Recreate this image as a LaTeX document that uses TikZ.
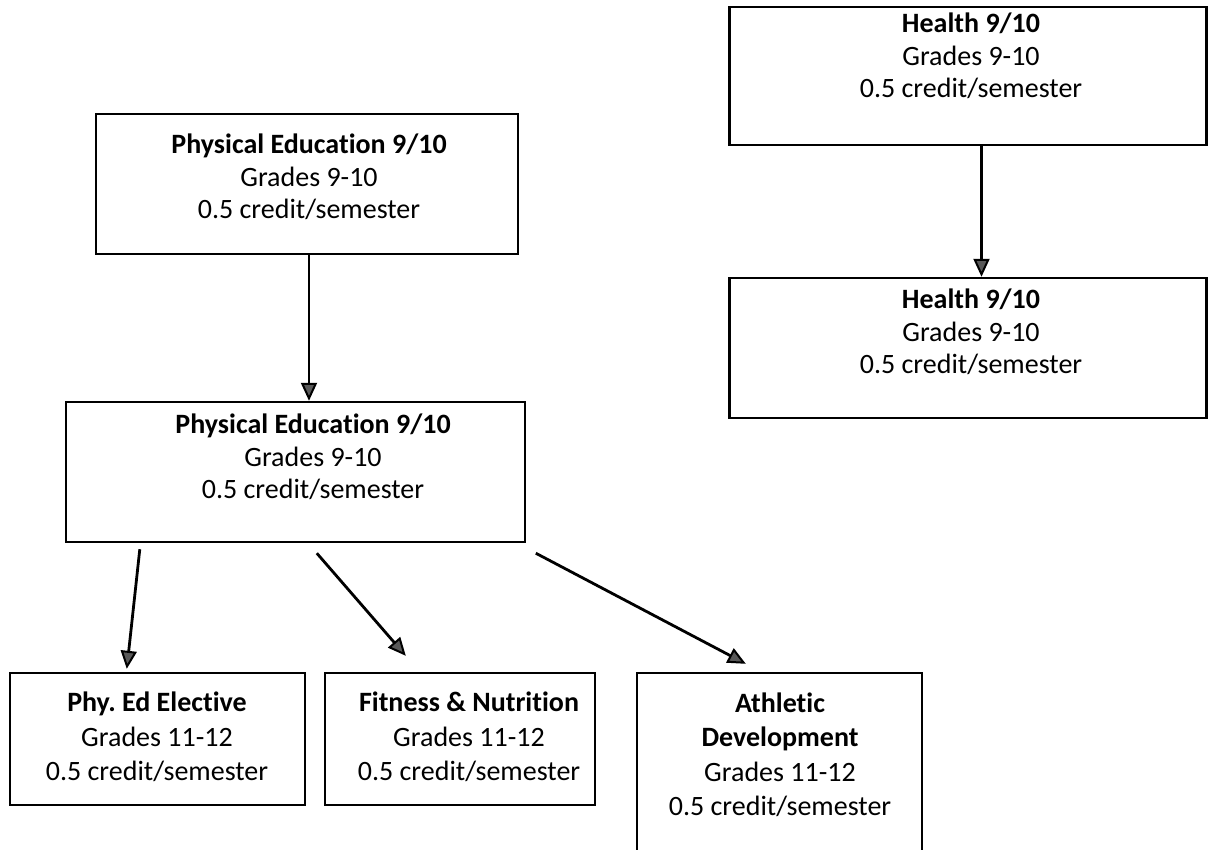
\documentclass[tikz,border=0pt]{standalone}
\usepackage{fontspec}
\setmainfont[Ligatures=NoCommon]{Carlito}
\usetikzlibrary{arrows.meta,calc}
\begin{document}
\frenchspacing
\begin{tikzpicture}[x=1pt,y=-1pt,
  box/.style={draw=black,line width=2.4pt,rectangle,inner sep=0pt},
  txt/.style={align=center,inner sep=0pt,font=\fontsize{28}{32.5}\selectfont},
  txtb/.style={align=center,inner sep=0pt,font=\fontsize{28}{34.5}\selectfont},
  arr/.style={draw=black,line width=2.8pt,-{Triangle[length=18pt,width=16pt,fill=black!65,line width=2pt]}}]
\useasboundingbox (0,0) rectangle (1209,850);
\clip (0,0) rectangle (1209,850);
% boxes
\node[box,minimum width=477pt,minimum height=138pt] (h1) at (968,76) {};
\node[box,minimum width=477pt,minimum height=140pt] (h2) at (968,348) {};
\node[box,minimum width=422pt,minimum height=140pt] (pe1) at (307,184) {};
\node[box,minimum width=459pt,minimum height=140pt] (pe2) at (295.5,472) {};
\node[box,minimum width=295pt,minimum height=132pt] (el) at (157.5,739) {};
\node[box,minimum width=270pt,minimum height=132pt] (fn) at (460,739) {};
\node[box,minimum width=285pt,minimum height=190pt] (ad) at (779.5,768) {};
% texts
\node[txt] (h1t) at (971,56) {\textbf{Health 9/10}\\Grades 9-10\\0.5 credit/semester};
\node[txt] (h2t) at (971,332) {\textbf{Health 9/10}\\Grades 9-10\\0.5 credit/semester};
\node[txt] (pe1t) at (309,177) {\textbf{Physical Education 9/10}\\Grades 9-10\\0.5 credit/semester};
\node[txt] (pe2t) at (313,457) {\textbf{Physical Education 9/10}\\Grades 9-10\\0.5 credit/semester};
\node[txtb] (elt) at (157,737) {\textbf{Phy. Ed Elective}\\Grades 11-12\\0.5 credit/semester};
\node[txtb] (fnt) at (469,737) {\textbf{Fitness \& Nutrition}\\Grades 11-12\\0.5 credit/semester};
\node[txtb] (adt) at (780,755) {\textbf{Athletic}\\\textbf{Development}\\Grades 11-12\\0.5 credit/semester};
% connectors
\draw[arr] ([xshift=2pt]pe1.south) -- ([xshift=2pt]pe1.south |- pe2.north);
\draw[arr] ([xshift=13.5pt]h1.south) -- ([xshift=13.5pt]h1.south |- h2.north);
\draw[arr] ($(pe2.south west)+(75,6)$) -- ($(el.north west)+(118,-3)$);
\draw[arr] ($(pe2.south west)+(252,10)$) -- ($(fn.north west)+(82,-16)$);
\draw[arr] ($(pe2.south west)+(471,10)$) -- ($(ad.north west)+(110,-8)$);
\end{tikzpicture}
\end{document}
